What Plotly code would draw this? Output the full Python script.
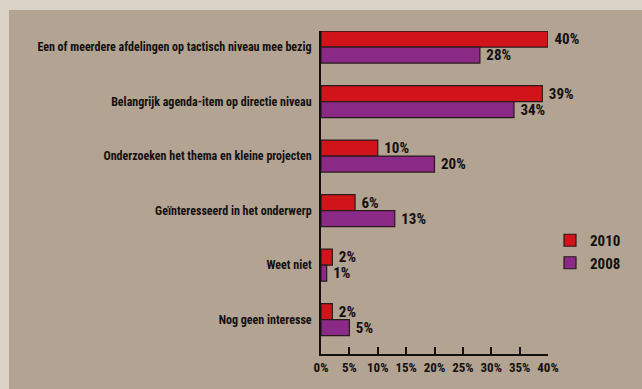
import plotly.graph_objects as go

categories = [
    "Een of meerdere afdelingen op tactisch niveau mee bezig",
    "Belangrijk agenda-item op directie niveau",
    "Onderzoeken het thema en kleine projecten",
    "Geïnteresseerd in het onderwerp",
    "Weet niet",
    "Nog geen interesse",
]
values_2010 = [40, 39, 10, 6, 2, 2]
values_2008 = [28, 34, 20, 13, 1, 5]
x_ticks = [0, 5, 10, 15, 20, 25, 30, 35, 40]
x_tick_labels = [f"{t}%" for t in x_ticks]

FONT = "Roboto Condensed, DejaVu Sans Condensed, sans-serif"
BORDER = "#dbd2c8"
PANEL = "#b3a392"
RED = "#d01419"
PURPLE = "#8b2a86"
INK = "#141010"

W, H = 642, 389
L, R, T, B = 321, 94, 31, 35
pw, ph = W - L - R, H - T - B

fig = go.Figure()
for name, vals, col in [("2010", values_2010, RED), ("2008", values_2008, PURPLE)]:
    fig.add_trace(go.Bar(
        name=name, y=categories, x=vals, orientation="h",
        marker=dict(color=col, line=dict(color="#2a1a1a", width=1.2)),
        # a no-break space keeps a little air between bar end and value
        text=[f"\u00a0{v}%" for v in vals], textposition="outside",
        constraintext="none",
        textfont=dict(family=FONT, size=15, color=INK, weight="bold"),
        cliponaxis=False,
    ))

# taupe panel behind the chart, leaving a light strip on the top and left
fig.add_shape(type="rect", xref="paper", yref="paper",
              x0=(9 - L) / pw, x1=(W - L) / pw,
              y0=(H - B - H) / ph, y1=(H - B - 10) / ph,
              fillcolor=PANEL, line=dict(width=0), layer="below")

top_idx = -0.294
bot_idx = 5.63
fig.update_layout(
    width=W, height=H,
    margin=dict(l=L, r=R, t=T, b=B, autoexpand=False),
    paper_bgcolor=BORDER, plot_bgcolor="rgba(0,0,0,0)",
    barmode="group", bargap=0.413, bargroupgap=0,
    font=dict(family=FONT, color=INK, weight="bold"),
    xaxis=dict(range=[0, 40], tickvals=x_ticks, ticktext=x_tick_labels,
               tickangle=0, automargin=False,
               ticks="inside", ticklen=7, tickwidth=1.5, tickcolor=INK,
               showline=True, linecolor=INK, linewidth=2,
               showgrid=False, zeroline=False,
               tickfont=dict(family=FONT, size=13, color=INK, weight="bold")),
    yaxis=dict(range=[bot_idx, top_idx], showline=True, linecolor=INK,
               linewidth=2, showgrid=False, ticks="", ticklabelstandoff=5,
               automargin=False,
               tickfont=dict(family=FONT, size=12, color=INK, weight="bold")),
    legend=dict(x=(550 - L) / pw, xanchor="left",
                y=(H - B - 224) / ph, yanchor="top",
                bgcolor="rgba(0,0,0,0)", traceorder="normal",
                font=dict(family=FONT, size=15, color=INK, weight="bold"),
                itemwidth=30, tracegroupgap=2),
    showlegend=True,
)

fig.write_html("out.html")
